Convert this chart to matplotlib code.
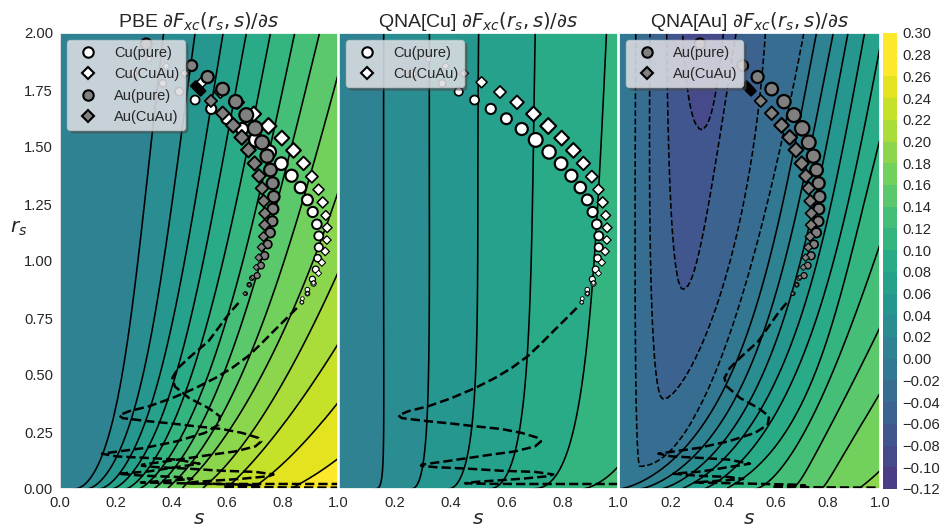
import numpy as np
import matplotlib
matplotlib.use("Agg")
import matplotlib.pyplot as plt
from matplotlib.colors import ListedColormap, BoundaryNorm
from matplotlib.lines import Line2D

plt.rcParams['font.family'] = ['Liberation Sans', 'DejaVu Sans']
plt.rcParams['mathtext.fontset'] = 'dejavusans'

# ---------- data ----------
band_edges = [-.12, -.10, -.08, -.06, -.04, -.02, 0, .02, .04, .06, .08, .10, .12, .14, .16, .18, .20, .22, .24, .26, .30]
cbar_ticks = [-.12, -.10, -.08, -.06, -.04, -.02, 0, .02, .04, .06, .08, .10, .12, .14, .16, .18, .20, .22, .24, .26, .28, .30]

rs_rows = [0, .05, .19, .5, .96, 1.5, 2.0]

# s position at which each contour level crosses the rs rows
pbe_levels = {
    .02: [.048, .11, .165, .225, .273, .33, .372],
    .04: [.092, .16, .215, .306, .363, .432, .486],
    .06: [.138, .205, .265, .366, .438, .52, .587],
    .08: [.185, .25, .31, .426, .504, .595, .671],
    .10: [.235, .295, .36, .48, .576, .675, .758],
    .12: [.285, .34, .41, .54, .647, .755, .845],
    .14: [.34, .385, .46, .594, .707, .835, .933],
    .16: [.395, .43, .51, .66, .791, .93, 1.04],
    .18: [.45, .48, .56, .74, .885, 1.06, 1.17],
    .20: [.52, .558, .647, .83, .99, 1.2, 1.35],
    .22: [.60, .635, .745, .94, 1.13, 1.4, 1.55],
    .24: [.70, .743, .863, 1.09, 1.3, 1.6, 1.8],
    .26: [.853, .90, 1.06, 1.3, 1.6, 1.9, 2.2],
}
cu_levels = {
    .02: [.127, .153, .160, .160, .160, .160, .160],
    .04: [.255, .29, .31, .32, .324, .324, .324],
    .06: [.389, .434, .47, .487, .497, .499, .50],
    .08: [.532, .595, .637, .669, .688, .697, .703],
    .10: [.685, .774, .822, .876, .915, .935, .96],
    .12: [.87, .96, 1.05, 1.15, 1.2, 1.25, 1.3],
}
au_levels = {
    0.0: [.0, .106, .272, .425, .553, .687, .751],
    .02: [.08, .176, .336, .489, .610, .751, .815],
    .04: [.163, .246, .400, .547, .674, .808, .872],
    .06: [.246, .310, .457, .610, .738, .872, .936],
    .08: [.33, .393, .527, .674, .802, .936, 1.006],
    .10: [.425, .476, .604, .751, .866, 1.0, 1.109],
    .12: [.52, .578, .700, .802, .962, 1.134, 1.262],
    .14: [.642, .693, .783, .904, 1.096, 1.313, 1.453],
    .16: [.764, .808, .879, 1.045, 1.262, 1.517, 1.709],
    .18: [.923, .968, 1.096, 1.313, 1.581, 1.9, 2.156],
}
# QNA[Au] negative contours: valleys open at the top, (rs, s) along each arm
au_neg_left = {
    -.02: ([.099, .129, .231, .523, .962, 2.0], [.080, .061, .051, .0485, .0485, .0485]),
    -.04: ([.392, .421, .523, .743, .962, 2.0], [.170, .138, .119, .108, .106, .10]),
    -.06: ([.874, .904, .962, 1.5, 2.0], [.246, .215, .195, .175, .163]),
    -.08: ([1.575, 1.633, 1.808, 2.0], [.317, .285, .259, .246]),
}
au_neg_right = {
    -.02: ([.099, .107, .151, .26, .421, .772, .962, 1.282, 1.618, 2.0],
           [.080, .106, .151, .240, .330, .419, .489, .547, .630, .687]),
    -.04: ([.392, .414, .626, .772, .962, 1.297, 1.575, 2.0],
           [.170, .202, .304, .368, .419, .476, .521, .559]),
    -.06: ([.874, .904, .962, 1.253, 1.633, 2.0], [.246, .279, .304, .349, .412, .457]),
    -.08: ([1.575, 1.618, 1.808, 2.0], [.317, .34, .375, .395]),
}
au_valley_rs = [0, .05, .099, .392, .874, 1.575, 2.0]
au_valley_s = [.005, .05, .08, .17, .246, .317, .33]
au_valley_z = [-.002, -.012, -.02, -.04, -.06, -.08, -.095]

# dashed density traces
cu_trace_s = [.852, .822, .774, .726, .679, .619, .559, .488, .404, .320, .248, .213, .225, .320, .404, .488, .583, .655, .714, .724, .703, .631, .547, .464, .380, .296, .294, .344, .464, .583, .703, .768, .750, .655, .559, .488, .452, .523, .643, .822, 1.0]
cu_trace_rs = [.794, .757, .699, .640, .585, .531, .487, .443, .399, .363, .341, .323, .311, .297, .287, .275, .263, .246, .224, .209, .187, .165, .151, .136, .121, .107, .102, .096, .089, .080, .075, .064, .056, .045, .037, .031, .025, .023, .022, .022, .022]
au_trace_s = [.642, .610, .534, .470, .425, .404, .413, .464, .534, .575, .570, .521, .419, .304, .151, .202, .317, .419, .502, .419, .317, .208, .304, .419, .476, .406, .291, .406, .559, .674, .713, .623, .585, .700, .815, 1.0]
au_trace_rs = [.816, .772, .648, .582, .531, .487, .450, .399, .355, .319, .282, .246, .209, .180, .155, .143, .136, .129, .111, .096, .077, .067, .058, .053, .044, .038, .029, .026, .022, .019, .015, .012, .009, .008, .007, .006]

# markers
cu_pure_s = [.263, .320, .370, .429, .486, .544, .600, .655, .705, .753, .796, .833, .865, .890, .909, .924, .931, .931, .927, .920, .908, .912, .890, .890, .872, .870]
cu_pure_rs = [1.823, 1.885, 1.779, 1.743, 1.706, 1.667, 1.624, 1.579, 1.531, 1.478, 1.427, 1.374, 1.322, 1.268, 1.215, 1.161, 1.110, 1.060, 1.012, .963, .920, .901, .874, .857, .835, .819]
cu_pure_size = [19, 8, 19, 25, 29, 37, 42, 52, 68, 63, 57, 52, 47, 42, 37, 33, 29, 25, 19, 16, 13, 10, 8, 8, 5, 5]
cu_cuau_s = [.382, .449, .511, .577, .638, .697, .750, .798, .840, .876, .906, .930, .945, .956, .961, .960, .954, .942, .930, .912, .890, .870]
cu_cuau_rs = [1.855, 1.823, 1.784, 1.741, 1.696, 1.645, 1.592, 1.539, 1.485, 1.428, 1.370, 1.313, 1.257, 1.200, 1.146, 1.092, 1.042, .993, .946, .904, .857, .819]
cu_cuau_size = [10, 13, 22, 27, 33, 39, 45, 39, 39, 33, 27, 22, 22, 17, 17, 13, 13, 10, 7, 4, 3, 3]
au_pure_s = [.310, .474, .531, .585, .632, .670, .702, .727, .745, .757, .765, .769, .766, .764, .756, .747, .736, .723, .709, .690, .681, .668]
au_pure_rs = [1.952, 1.857, 1.807, 1.754, 1.699, 1.640, 1.582, 1.520, 1.460, 1.399, 1.341, 1.282, 1.228, 1.174, 1.124, 1.073, 1.023, .980, .936, .925, .896, .857]
au_pure_size = [42, 42, 52, 57, 63, 68, 74, 68, 63, 57, 52, 47, 42, 37, 33, 25, 22, 16, 13, 8, 8, 5]
au_cuau_s = [.543, .585, .623, .654, .678, .700, .716, .727, .733, .737, .736, .732, .725, .715, .706, .693, .681, .665]
au_cuau_rs = [1.702, 1.648, 1.595, 1.542, 1.487, 1.428, 1.373, 1.319, 1.263, 1.209, 1.158, 1.107, 1.060, 1.015, .972, .928, .896, .857]
au_cuau_size = [27, 33, 39, 39, 39, 36, 33, 30, 27, 25, 22, 17, 13, 10, 7, 4, 3, 3]
# the dense cluster at the start of the Au(CuAu) series reads as solid black
au_dense_s = [.488, .497, .506]
au_dense_rs = [1.768, 1.757, 1.746]
au_dense_size = [16, 16, 16]

titles = [r'PBE $\partial F_{xc}(r_s, s)/\partial s$',
          r'QNA[Cu] $\partial F_{xc}(r_s, s)/\partial s$',
          r'QNA[Au] $\partial F_{xc}(r_s, s)/\partial s$']

# ---------- helpers ----------
W, H = 943, 527
fine_rs = np.concatenate([np.arange(0, .3, .002), np.arange(.3, 2.0001, .01)])
fine_s = np.linspace(0, 1, 501)


def row_arm(values):
    u = np.asarray(rs_rows, float) ** .4
    c = np.polyfit(u, values, 4)
    return np.polyval(c, fine_rs ** .4)


def valley_arm(rs_pts, s_pts, deg):
    r, q = np.asarray(rs_pts, float), np.asarray(s_pts, float)
    v = np.sqrt(r - r[0])
    c = np.polyfit(v[1:], q[1:] - q[0], min(deg, len(r) - 2))
    out = np.full(fine_rs.shape, np.nan)
    mask = fine_rs >= r[0]
    out[mask] = q[0] + np.polyval(c, np.sqrt(fine_rs[mask] - r[0])) - np.polyval(c, 0)
    return out


def build_field(table, neg_left=None, neg_right=None, valley=None):
    arms = [(lv, row_arm(v)) for lv, v in table.items()]
    if neg_left:
        arms += [(lv, valley_arm(r, q, 2)) for lv, (r, q) in neg_left.items()]
    if neg_right:
        arms += [(lv, valley_arm(r, q, 3)) for lv, (r, q) in neg_right.items()]
    Z = np.zeros((len(fine_rs), len(fine_s)))
    for i in range(len(fine_rs)):
        kn = [(0.0, 0.0)]
        for lv, a in arms:
            if np.isfinite(a[i]):
                kn.append((a[i], lv))
        if valley is not None:
            kn.append((np.interp(fine_rs[i], valley[0], valley[1]),
                       np.interp(fine_rs[i], valley[0], valley[2])))
        kn = sorted(kn)
        xs = np.array([k[0] for k in kn])
        zs = np.array([k[1] for k in kn])
        xs = np.maximum.accumulate(xs + np.arange(len(xs)) * 1e-7)
        xs = np.append(xs, xs[-1] + 2.0)
        zs = np.append(zs, zs[-1] + .2)
        Z[i] = np.interp(fine_s, xs, zs)
    return Z


Z_pbe = build_field(pbe_levels)
Z_cu = build_field(cu_levels)
Z_au = build_field(au_levels, au_neg_left, au_neg_right, (au_valley_rs, au_valley_s, au_valley_z))

vir = plt.get_cmap('viridis')
band_colors = vir(np.linspace(.16, 1, len(band_edges) - 1))
band_colors[:, :3] = band_colors[:, :3] * .97 + .03
cmap = ListedColormap(band_colors)
norm = BoundaryNorm(band_edges, cmap.N)
line_levels = band_edges[1:-1]

# ---------- figure ----------
fig = plt.figure(figsize=(W / 100, H / 100), dpi=100)


def add_box(x0, x1, y0=33, y1=489):
    return fig.add_axes([x0 / W, 1 - y1 / H, (x1 - x0) / W, (y1 - y0) / H])


axes = [add_box(60, 338), add_box(339, 618), add_box(619, 880)]
cax = add_box(883, 897)
fields = [Z_pbe, Z_cu, Z_au]
text_c = '#262626'
size_scale = 1.45

handles = {
    'Cu(pure)': Line2D([], [], ls='None', marker='o', mfc='w', mec='k', mew=1.5, ms=7.5),
    'Cu(CuAu)': Line2D([], [], ls='None', marker='D', mfc='w', mec='k', mew=1.5, ms=6.5),
    'Au(pure)': Line2D([], [], ls='None', marker='o', mfc='gray', mec='k', mew=1.5, ms=7.5),
    'Au(CuAu)': Line2D([], [], ls='None', marker='D', mfc='gray', mec='k', mew=1.5, ms=6.5),
}
panel_series = [['Cu(pure)', 'Cu(CuAu)', 'Au(pure)', 'Au(CuAu)'],
                ['Cu(pure)', 'Cu(CuAu)'],
                ['Au(pure)', 'Au(CuAu)']]
series = {
    'Cu(pure)': (cu_pure_s, cu_pure_rs, cu_pure_size, 'o', 'w'),
    'Cu(CuAu)': (cu_cuau_s, cu_cuau_rs, cu_cuau_size, 'D', 'w'),
    'Au(pure)': (au_pure_s, au_pure_rs, au_pure_size, 'o', 'gray'),
    'Au(CuAu)': (au_cuau_s, au_cuau_rs, au_cuau_size, 'D', 'gray'),
}

for n, ax in enumerate(axes):
    ax.contourf(fine_s, fine_rs, fields[n], levels=band_edges, cmap=cmap, norm=norm, extend='neither')
    ax.contour(fine_s, fine_rs, fields[n], levels=line_levels, colors='k', linewidths=1.15)
    names = panel_series[n]
    if any(nm.startswith('Cu') for nm in names):
        ax.plot(cu_trace_s, cu_trace_rs, 'k--', lw=1.8)
    if any(nm.startswith('Au') for nm in names):
        ax.plot(au_trace_s, au_trace_rs, 'k--', lw=1.8)
    for z, nm in enumerate(names):
        xs, ys, sz, mk, fc = series[nm]
        sz = np.array(sz, float)
        ax.scatter(xs, ys, s=sz * size_scale, marker=mk, facecolor=fc, edgecolor='k',
                   linewidth=np.clip(np.sqrt(sz) * .24, .6, 1.6), zorder=3 + z)
    if 'Au(CuAu)' in names:
        ax.scatter(au_dense_s, au_dense_rs, s=np.array(au_dense_size) * size_scale, marker='D',
                   facecolor='k', edgecolor='k', linewidth=1.5, zorder=3 + len(names))
    ax.set_xlim(0, 1)
    ax.set_ylim(0, 2)
    if n == 0:
        ax.set_xticks([0, .2, .4, .6, .8, 1.0])
        ax.set_xticklabels(['0.0', '0.2', '0.4', '0.6', '0.8', '1.0'])
    else:
        ax.set_xticks([.2, .4, .6, .8, 1.0])
        ax.set_xticklabels(['0.2', '0.4', '0.6', '0.8', '1.0'])
    ax.set_yticks([0, .25, .5, .75, 1, 1.25, 1.5, 1.75, 2])
    if n == 0:
        ax.set_yticklabels(['0.00', '0.25', '0.50', '0.75', '1.00', '1.25', '1.50', '1.75', '2.00'])
        ax.set_ylabel(r'$r_s$', rotation=0, fontsize=14.5, color=text_c, va='center')
        ax.yaxis.set_label_coords(-.15, .572)
    else:
        ax.set_yticklabels([])
    ax.tick_params(axis='x', length=0, labelsize=10.6, labelcolor=text_c, pad=5)
    ax.tick_params(axis='y', length=0, labelsize=10.6, labelcolor=text_c, pad=5)
    ax.set_xlabel(r'$s$', fontsize=14.5, color=text_c)
    ax.xaxis.set_label_coords(.5, -.044)
    ax.set_title(titles[n], fontsize=14, color=text_c, pad=4)
    for sp in ax.spines.values():
        sp.set_color('white')
        sp.set_linewidth(1.25)
    ax.legend([handles[nm] for nm in names], names, loc='upper left', fontsize=10.5,
              framealpha=.75, facecolor='#f6f6fc', edgecolor='.8', shadow=True,
              labelcolor=text_c).set_zorder(10)

sm = plt.cm.ScalarMappable(norm=norm, cmap=cmap)
cb = fig.colorbar(sm, cax=cax, ticks=cbar_ticks, spacing='proportional', drawedges=False)
cb.ax.set_yticklabels(['%.2f' % t if t >= 0 else '\u2212%.2f' % abs(t) for t in cbar_ticks])
cb.ax.tick_params(length=0, labelsize=10.6, labelcolor=text_c, pad=4)
cb.outline.set_visible(False)

fig.savefig('out.png', dpi=100)
